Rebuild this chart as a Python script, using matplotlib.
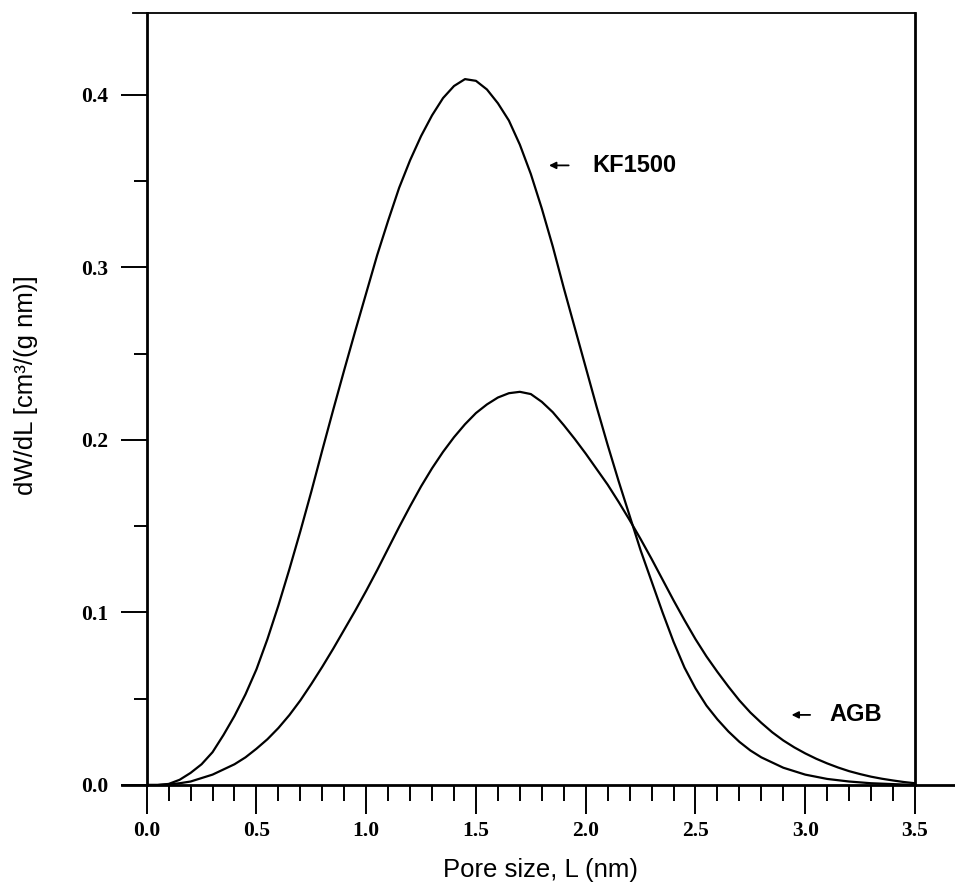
import numpy as np
import matplotlib.pyplot as plt
from matplotlib.ticker import MultipleLocator, FormatStrFormatter


# pore size (nm) and dW/dL
pore_kf = [0.00, 0.05, 0.10, 0.15, 0.20, 0.25, 0.30, 0.35, 0.40, 0.45, 0.50,
           0.55, 0.60, 0.65, 0.70, 0.75, 0.80, 0.85, 0.90, 0.95, 1.00, 1.05,
           1.10, 1.15, 1.20, 1.25, 1.30, 1.35, 1.40, 1.45, 1.50, 1.55, 1.60,
           1.65, 1.70, 1.75, 1.80, 1.85, 1.90, 1.95, 2.00, 2.05, 2.10, 2.15,
           2.20, 2.25, 2.30, 2.35, 2.40, 2.45, 2.50, 2.55, 2.60, 2.65, 2.70,
           2.75, 2.80, 2.85, 2.90, 2.95, 3.00, 3.10, 3.20, 3.30, 3.40, 3.50]
kf1500 = [0.0, 0.0, 0.0006, 0.003, 0.007, 0.012, 0.019, 0.029, 0.040, 0.0525,
          0.067, 0.0845, 0.104, 0.125, 0.147, 0.170, 0.194, 0.2175, 0.2405,
          0.263, 0.285, 0.307, 0.327, 0.346, 0.362, 0.376, 0.388, 0.398, 0.405,
          0.409, 0.408, 0.403, 0.395, 0.385, 0.371, 0.354, 0.334, 0.312, 0.288,
          0.265, 0.242, 0.219, 0.197, 0.176, 0.156, 0.136, 0.118, 0.100, 0.083,
          0.068, 0.056, 0.046, 0.038, 0.031, 0.025, 0.020, 0.016, 0.013, 0.010,
          0.008, 0.006, 0.0035, 0.002, 0.001, 0.0005, 0.0]

pore_agb = [0.00, 0.05, 0.10, 0.15, 0.20, 0.25, 0.30, 0.35, 0.40, 0.45, 0.50,
            0.55, 0.60, 0.65, 0.70, 0.75, 0.80, 0.85, 0.90, 0.95, 1.00, 1.05,
            1.10, 1.15, 1.20, 1.25, 1.30, 1.35, 1.40, 1.45, 1.50, 1.55, 1.60,
            1.65, 1.70, 1.75, 1.80, 1.85, 1.90, 1.95, 2.00, 2.05, 2.10, 2.15,
            2.20, 2.25, 2.30, 2.35, 2.40, 2.45, 2.50, 2.55, 2.60, 2.65, 2.70,
            2.75, 2.80, 2.85, 2.90, 2.95, 3.00, 3.05, 3.10, 3.15, 3.20, 3.25,
            3.30, 3.35, 3.40, 3.45, 3.50]
agb = [0.0, 0.0, 0.0003, 0.001, 0.002, 0.004, 0.006, 0.009, 0.012, 0.016, 0.021,
       0.0265, 0.033, 0.0405, 0.049, 0.0585, 0.0685, 0.079, 0.090, 0.101, 0.1125,
       0.1245, 0.137, 0.1495, 0.1615, 0.173, 0.1835, 0.193, 0.2015, 0.209,
       0.2155, 0.2205, 0.2245, 0.227, 0.2278, 0.2265, 0.222, 0.216, 0.2085,
       0.2005, 0.192, 0.183, 0.174, 0.164, 0.1535, 0.1425, 0.131, 0.119, 0.107,
       0.0955, 0.0845, 0.0745, 0.0655, 0.057, 0.049, 0.042, 0.036, 0.0305,
       0.0258, 0.0218, 0.0183, 0.0152, 0.0125, 0.0101, 0.008, 0.0063, 0.0048,
       0.0036, 0.0026, 0.0017, 0.001]


fig = plt.figure(figsize=(9.55, 8.91), dpi=100)
ax = fig.add_axes([0.1536, 0.119, 0.8045, 0.8664])

ax.plot(pore_kf, kf1500, color='black', lw=1.6, solid_joinstyle='round')
ax.plot(pore_agb, agb, color='black', lw=1.6, solid_joinstyle='round')

ax.set_xlim(0, 3.5)
ax.set_ylim(0, 0.4473)

# frame: thin top, heavy left/right, long bottom axis line
ax.spines['bottom'].set_visible(False)
ax.spines['top'].set_visible(False)
ax.spines['left'].set_linewidth(2.0)
ax.spines['right'].set_linewidth(2.0)
ax.plot([-0.032, 1.052], [0, 0], transform=ax.transAxes, color='black',
        lw=2.0, clip_on=False)
ax.plot([-0.018, 1.0], [1, 1], transform=ax.transAxes, color='black',
        lw=1.3, clip_on=False)

ax.xaxis.set_major_locator(MultipleLocator(0.5))
ax.xaxis.set_minor_locator(MultipleLocator(0.1))
ax.yaxis.set_major_locator(MultipleLocator(0.1))
ax.yaxis.set_minor_locator(MultipleLocator(0.05))
ax.xaxis.set_major_formatter(FormatStrFormatter('%.1f'))
ax.yaxis.set_major_formatter(FormatStrFormatter('%.1f'))

ax.tick_params(axis='x', which='major', direction='out', length=21, width=1.4,
               pad=5)
ax.tick_params(axis='x', which='minor', direction='out', length=11.5, width=1.4)
ax.tick_params(axis='y', which='major', direction='out', length=18.5, width=1.4,
               pad=9)
ax.tick_params(axis='y', which='minor', direction='out', length=9.5, width=1.4)
ax.tick_params(top=False, right=False, which='both')

for lab in ax.get_xticklabels() + ax.get_yticklabels():
    lab.set_fontfamily('Liberation Serif')
    lab.set_fontweight('bold')
    lab.set_fontsize(15.5)

ax.set_xlabel('Pore size, L (nm)', family='Liberation Sans', fontsize=18.5)
ax.set_ylabel('dW/dL [cm\u00b3/(g nm)]', family='Liberation Sans',
              fontsize=18.5)
ax.xaxis.set_label_coords(0.513, -0.095)
ax.yaxis.set_label_coords(-0.142, 0.518)

# curve labels with small left arrows
ax.annotate('', xy=(1.82, 0.359), xytext=(1.935, 0.359),
            arrowprops=dict(arrowstyle='-|>', color='black', lw=1.3,
                            mutation_scale=10))
ax.text(2.03, 0.359, 'KF1500', family='Liberation Sans', fontweight='bold',
        fontsize=17, va='center', ha='left')
ax.annotate('', xy=(2.925, 0.0406), xytext=(3.035, 0.0406),
            arrowprops=dict(arrowstyle='-|>', color='black', lw=1.3,
                            mutation_scale=10))
ax.text(3.11, 0.0406, 'AGB', family='Liberation Sans', fontweight='bold',
        fontsize=17, va='center', ha='left')

fig.savefig('out.png', dpi=100)
